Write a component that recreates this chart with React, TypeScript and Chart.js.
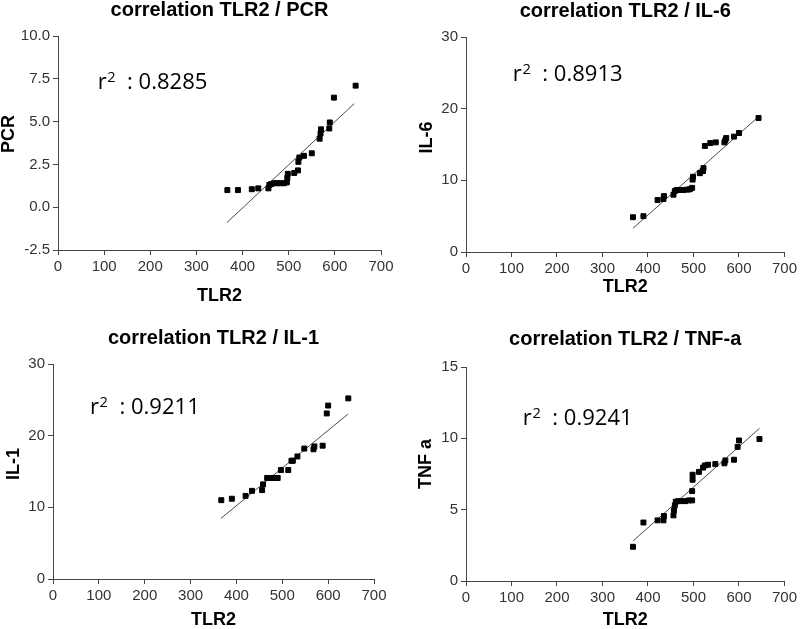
import React, { useEffect, useRef } from "react";
import { Chart, registerables } from "chart.js";

Chart.register(...registerables);

// ---------- data ----------
const xAxisLabel = "TLR2";
const xTickValues = [0, 100, 200, 300, 400, 500, 600, 700];

const pcrTlr2 = [367, 390, 420, 434, 456, 458, 462, 468, 475, 482, 490, 496, 497, 498, 512, 520, 521, 523, 533, 550, 567, 569, 570, 588, 589, 598, 645];
const pcrValues = [1.0, 1.0, 1.05, 1.1, 1.1, 1.3, 1.35, 1.4, 1.4, 1.4, 1.4, 1.45, 1.7, 1.95, 2.0, 2.15, 2.65, 2.9, 3.0, 3.15, 4.0, 4.3, 4.55, 4.6, 4.95, 6.4, 7.1];
const pcrFitX = [366, 642];
const pcrFitY = [-0.9, 6.05];
const pcrR2 = "0.8285";

const il6Tlr2 = [367, 390, 421, 434, 435, 456, 459, 463, 470, 478, 486, 492, 497, 498, 499, 514, 521, 522, 525, 537, 549, 568, 570, 572, 589, 600, 643];
const il6Values = [4.85, 5.0, 7.25, 7.4, 7.8, 8.0, 8.5, 8.65, 8.65, 8.65, 8.7, 8.75, 8.95, 10.1, 10.5, 11.0, 11.3, 11.7, 14.8, 15.2, 15.3, 15.3, 15.6, 15.9, 16.1, 16.6, 18.7];
const il6FitX = [367, 645];
const il6FitY = [3.3, 19.0];
const il6R2 = "0.8913";

const il1Tlr2 = [367, 390, 420, 434, 456, 458, 467, 475, 482, 490, 497, 513, 520, 523, 533, 548, 568, 570, 588, 597, 600, 644];
const il1Values = [11.0, 11.2, 11.6, 12.3, 12.4, 13.2, 14.1, 14.1, 14.1, 14.1, 15.2, 15.2, 16.5, 16.5, 17.1, 18.2, 18.1, 18.5, 18.6, 23.1, 24.2, 25.2];
const il1FitX = [366, 643];
const il1FitY = [8.45, 23.0];
const il1R2 = "0.9211";

const tnfTlr2 = [367, 390, 421, 434, 435, 456, 457, 459, 461, 466, 474, 482, 490, 497, 497, 498, 498, 512, 521, 525, 532, 548, 568, 570, 589, 597, 600, 645];
const tnfValues = [2.4, 4.1, 4.25, 4.25, 4.55, 4.6, 4.95, 5.3, 5.55, 5.6, 5.6, 5.6, 5.65, 5.65, 6.3, 7.1, 7.45, 7.65, 7.95, 8.1, 8.15, 8.2, 8.25, 8.45, 8.5, 9.4, 9.85, 9.95];
const tnfFitX = [367, 645];
const tnfFitY = [2.8, 10.7];
const tnfR2 = "0.9241";

// ---------- panel definitions ----------
type Panel = {
  title: string;
  yLabel: string;
  xs: number[];
  ys: number[];
  fitX: number[];
  fitY: number[];
  r2: string;
  r2At: [number, number];
  yMin: number;
  yMax: number;
  yStep: number;
  yDecimals: number;
  box: {
    left: number; top: number; width: number; height: number;
    yWidth: number; padRight: number; xHeight: number;
    titleTop: number; titleBottom: number; xTitleBottom: number;
    yTitleX: number; yTitleY: number;
  };
};

const panels: Panel[] = [
  {
    title: "correlation TLR2 / PCR", yLabel: "PCR",
    xs: pcrTlr2, ys: pcrValues, fitX: pcrFitX, fitY: pcrFitY, r2: pcrR2, r2At: [86, 6.89],
    yMin: -2.5, yMax: 10, yStep: 2.5, yDecimals: 1,
    box: { left: 0, top: 0, width: 400, height: 310, yWidth: 58, padRight: 19, xHeight: 60,
      titleTop: 0, titleBottom: 16, xTitleBottom: 5, yTitleX: 9, yTitleY: 134 },
  },
  {
    title: "correlation TLR2 / IL-6", yLabel: "IL-6",
    xs: il6Tlr2, ys: il6Values, fitX: il6FitX, fitY: il6FitY, r2: il6R2, r2At: [103, 23.86],
    yMin: 0, yMax: 30, yStep: 10, yDecimals: 0,
    box: { left: 400, top: 0, width: 400, height: 310, yWidth: 66, padRight: 13, xHeight: 58,
      titleTop: 1.5, titleBottom: 15.5, xTitleBottom: 13.5, yTitleX: 26.7, yTitleY: 137.5 },
  },
  {
    title: "correlation TLR2 / IL-1", yLabel: "IL-1",
    xs: il1Tlr2, ys: il1Values, fitX: il1FitX, fitY: il1FitY, r2: il1R2, r2At: [80.7, 23.0],
    yMin: 0, yMax: 30, yStep: 10, yDecimals: 0,
    box: { left: 0, top: 310, width: 400, height: 319, yWidth: 53, padRight: 26, xHeight: 50,
      titleTop: 18.3, titleBottom: 15.7, xTitleBottom: 0, yTitleX: 14.5, yTitleY: 154 },
  },
  {
    title: "correlation TLR2 / TNF-a", yLabel: "TNF a",
    xs: tnfTlr2, ys: tnfValues, fitX: tnfFitX, fitY: tnfFitY, r2: tnfR2, r2At: [125, 10.93],
    yMin: 0, yMax: 15, yStep: 5, yDecimals: 0,
    box: { left: 400, top: 310, width: 400, height: 319, yWidth: 66, padRight: 13, xHeight: 48,
      titleTop: 19, titleBottom: 18, xTitleBottom: 0, yTitleX: 25.8, yTitleY: 154 },
  },
];

const SANS = "'Liberation Sans', Arial, sans-serif";
const NOTE_FONT = "'Open Sans', 'Noto Sans', sans-serif";
const AXIS_COLOR = "#444444";
const TICK_COLOR = "#333333";

function ScatterPanel({ p }: { p: Panel }) {
  const ref = useRef<HTMLCanvasElement | null>(null);

  useEffect(() => {
    if (!ref.current) return;
    const b = p.box;

    const decor = {
      id: "decor",
      afterDraw(chart: any) {
        const ctx = chart.ctx as CanvasRenderingContext2D;
        // y-axis title
        ctx.save();
        ctx.translate(b.yTitleX, b.yTitleY);
        ctx.rotate(-Math.PI / 2);
        ctx.font = `bold 18px ${SANS}`;
        ctx.fillStyle = "#000";
        ctx.textAlign = "center";
        ctx.textBaseline = "middle";
        ctx.fillText(p.yLabel, 0, 0);
        ctx.restore();

        // r² annotation
        const px = chart.scales.x.getPixelForValue(p.r2At[0]);
        const py = chart.scales.y.getPixelForValue(p.r2At[1]);
        ctx.save();
        ctx.translate(px, py);
        ctx.scale(1.05, 1);
        ctx.fillStyle = "#000";
        ctx.textAlign = "left";
        ctx.textBaseline = "alphabetic";
        ctx.font = `21px ${NOTE_FONT}`;
        ctx.fillText("r", 0, 0);
        let x = ctx.measureText("r").width + 0.5;
        ctx.font = `14px ${NOTE_FONT}`;
        ctx.fillText("2", x, -7);
        x += ctx.measureText("2").width;
        ctx.font = `21px ${NOTE_FONT}`;
        ctx.fillText("  : " + p.r2, x, 0);
        ctx.restore();
      },
    };

    const chart = new Chart(ref.current, {
      type: "scatter",
      data: {
        datasets: [
          {
            data: p.xs.map((x, i) => ({ x, y: p.ys[i] })),
            pointStyle: "rect",
            pointRadius: 3.5,
            pointBorderWidth: 1,
            backgroundColor: "#000",
            borderColor: "#000",
          },
          {
            data: p.fitX.map((x, i) => ({ x, y: p.fitY[i] })),
            showLine: true,
            pointRadius: 0,
            borderColor: "#4a4a4a",
            borderWidth: 1,
          },
        ],
      },
      options: {
        animation: false,
        responsive: false,
        devicePixelRatio: 1,
        events: [],
        layout: { padding: { left: 0, right: b.padRight, top: 0, bottom: 0 } },
        plugins: {
          legend: { display: false },
          tooltip: { enabled: false },
          title: {
            display: true,
            text: p.title,
            fullSize: false,
            color: "#000",
            font: { family: SANS, size: 20, weight: "bold", lineHeight: 1 },
            padding: { top: b.titleTop, bottom: b.titleBottom },
          },
        },
        scales: {
          x: {
            type: "linear",
            min: xTickValues[0],
            max: xTickValues[xTickValues.length - 1],
            afterBuildTicks: (s: any) => {
              s.ticks = xTickValues.map((v) => ({ value: v }));
            },
            ticks: { color: TICK_COLOR, font: { family: SANS, size: 15 }, padding: 3, maxRotation: 0 },
            grid: { drawOnChartArea: false, drawTicks: true, tickLength: 5, color: AXIS_COLOR },
            border: { display: true, color: AXIS_COLOR, width: 1 },
            title: {
              display: true,
              text: xAxisLabel,
              color: "#000",
              font: { family: SANS, size: 18, weight: "bold", lineHeight: 1 },
              padding: { top: 0, bottom: b.xTitleBottom },
            },
            afterFit: (s: any) => {
              s.height = b.xHeight;
            },
          },
          y: {
            type: "linear",
            min: p.yMin,
            max: p.yMax,
            ticks: {
              stepSize: p.yStep,
              color: TICK_COLOR,
              font: { family: SANS, size: 15 },
              padding: 3,
              callback: (v: any) => Number(v).toFixed(p.yDecimals),
            },
            grid: { drawOnChartArea: false, drawTicks: true, tickLength: 5, color: AXIS_COLOR },
            border: { display: true, color: AXIS_COLOR, width: 1 },
            afterFit: (s: any) => {
              s.width = b.yWidth;
            },
          },
        },
      } as any,
      plugins: [decor],
    });

    return () => chart.destroy();
  }, [p]);

  const b = p.box;
  return (
    <canvas
      ref={ref}
      width={b.width}
      height={b.height}
      style={{ position: "absolute", left: b.left, top: b.top, width: b.width, height: b.height }}
    />
  );
}

export default function App() {
  return (
    <div
      style={{
        position: "absolute",
        left: 0,
        top: 0,
        width: 800,
        height: 629,
        overflow: "hidden",
        background: "#ffffff",
      }}
    >
      {panels.map((p, i) => (
        <ScatterPanel key={i} p={p} />
      ))}
    </div>
  );
}
